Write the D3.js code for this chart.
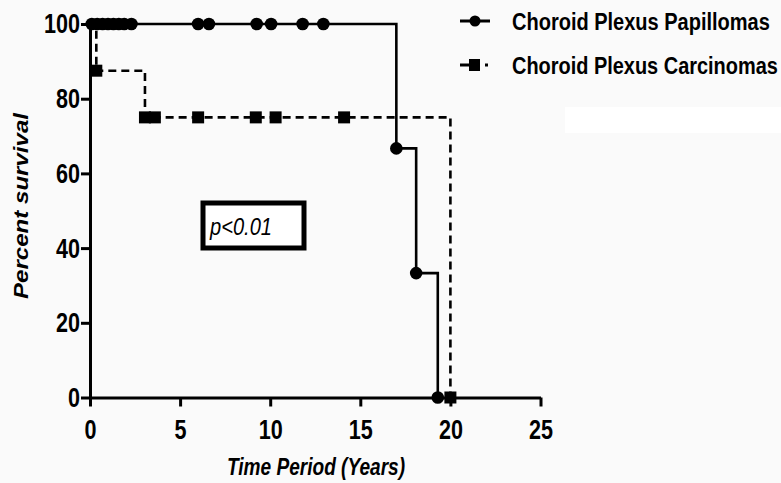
<!DOCTYPE html>
<html>
<head>
<meta charset="utf-8">
<script src="https://cdn.jsdelivr.net/npm/d3@7"></script>
<style>
  body { margin: 0; background: #fafafa; }
  svg { display: block; }
  text { font-family: "Liberation Sans", Arial, sans-serif; }
</style>
</head>
<body>
<div id="chart"></div>
<script>
// Kaplan-Meier steps (time in years, percent survival)
const papTimes = [0, 17, 18.1, 19.3];
const papSurv = [100, 66.7, 33.3, 0];
const papCensored = [0.1, 0.4, 0.7, 1.0, 1.3, 1.6, 1.9, 2.3, 6.0, 6.6, 9.25, 10.05, 11.8, 12.95];

const carTimes = [0, 0.35, 3.05, 20];
const carSurv = [100, 87.5, 75, 0];
const carCensored = [3.6, 6.0, 9.2, 10.3, 14.1];

const xTicks = [0, 5, 10, 15, 20, 25];
const yTicks = [0, 20, 40, 60, 80, 100];
const seriesNames = ["Choroid Plexus Papillomas", "Choroid Plexus Carcinomas"];

const W = 781, H = 483;
const x = d3.scaleLinear().domain([0, 25]).range([90, 540.5]);
const y = d3.scaleLinear().domain([0, 100]).range([397.5, 24]);

const svg = d3.select("#chart").append("svg").attr("width", W).attr("height", H);
svg.append("rect").attr("width", W).attr("height", H).attr("fill", "#fafafa");
svg.append("rect").attr("x", 565).attr("y", 107).attr("width", 216).attr("height", 26).attr("fill", "#ffffff");

// narrow bold look: squeeze text to the width measured in the picture
function squeeze(sel, len) {
    sel.attr("textLength", len).attr("lengthAdjust", "spacingAndGlyphs");
}

// step path builder
function stepPoints(times, surv) {
    const pts = [];
    times.forEach((t, i) => {
        if (i > 0) pts.push([t, surv[i - 1]]);
        pts.push([t, surv[i]]);
    });
    return pts;
}
const line = d3.line().x(d => x(d[0])).y(d => y(d[1]));

// axes
const xAxis = svg.append("g").attr("transform", `translate(0,${y(0)})`)
    .call(d3.axisBottom(x).tickValues(xTicks).tickSize(9).tickSizeOuter(0).tickPadding(13));
const yAxis = svg.append("g").attr("transform", `translate(${x(0)},0)`)
    .call(d3.axisLeft(y).tickValues(yTicks).tickSize(9).tickSizeOuter(0).tickPadding(1));
[xAxis, yAxis].forEach(g => {
    g.attr("font-family", null);
    g.select(".domain").attr("stroke", "#000").attr("stroke-width", 3);
    g.selectAll(".tick line").attr("stroke", "#000").attr("stroke-width", 3);
    g.selectAll(".tick text").attr("fill", "#000").attr("font-size", 28).attr("font-weight", "bold")
        .call(squeeze, d => String(d).length * 12);
});

// series lines
svg.append("path").datum(stepPoints(carTimes, carSurv)).attr("d", line)
    .attr("fill", "none").attr("stroke", "#000").attr("stroke-width", 2.6).attr("stroke-dasharray", "8,5");
svg.append("path").datum(stepPoints(papTimes, papSurv)).attr("d", line)
    .attr("fill", "none").attr("stroke", "#000").attr("stroke-width", 2.6);

// markers
const carPts = carTimes.slice(1).map((t, i) => [t, carSurv[i + 1]]).concat(carCensored.map(t => [t, 75]));
svg.append("g").selectAll("rect").data(carPts).enter().append("rect")
    .attr("x", d => x(d[0]) - 6).attr("y", d => y(d[1]) - 6)
    .attr("width", 12).attr("height", 12).attr("fill", "#000");

const papPts = papTimes.slice(1).map((t, i) => [t, papSurv[i + 1]]).concat(papCensored.map(t => [t, 100]));
svg.append("g").selectAll("circle").data(papPts).enter().append("circle")
    .attr("cx", d => x(d[0])).attr("cy", d => y(d[1])).attr("r", 6.3).attr("fill", "#000");

// p value box
svg.append("rect").attr("x", 203).attr("y", 203).attr("width", 101).attr("height", 45)
    .attr("fill", "#fff").attr("stroke", "#000").attr("stroke-width", 5);
svg.append("text").attr("x", 210).attr("y", 235)
    .attr("font-size", 24).attr("font-style", "italic").text("p<0.01").call(squeeze, 62);

// axis titles
svg.append("text").attr("x", 316).attr("y", 475).attr("text-anchor", "middle")
    .attr("font-size", 23).attr("font-weight", "bold").attr("font-style", "italic")
    .text("Time Period (Years)").call(squeeze, 178);
svg.append("text").attr("transform", "translate(28,206) rotate(-90)").attr("text-anchor", "middle")
    .attr("font-size", 21).attr("font-weight", "bold").attr("font-style", "italic")
    .text("Percent survival").call(squeeze, 186);

// legend
const legend = svg.append("g");
const legY = [21, 65];
const legW = [258, 266];
legend.append("line").attr("x1", 460).attr("x2", 490).attr("y1", legY[0]).attr("y2", legY[0])
    .attr("stroke", "#000").attr("stroke-width", 3);
legend.append("circle").attr("cx", 475).attr("cy", legY[0]).attr("r", 5.5).attr("fill", "#000");
legend.append("line").attr("x1", 460).attr("x2", 478).attr("y1", legY[1]).attr("y2", legY[1])
    .attr("stroke", "#000").attr("stroke-width", 3);
legend.append("line").attr("x1", 485).attr("x2", 488).attr("y1", legY[1]).attr("y2", legY[1])
    .attr("stroke", "#000").attr("stroke-width", 3);
legend.append("rect").attr("x", 469).attr("y", legY[1] - 6).attr("width", 11).attr("height", 12).attr("fill", "#000");
// legend labels: scale horizontally so the condensed width matches
legend.selectAll("text").data(seriesNames).enter().append("text")
    .attr("font-size", 23).attr("font-weight", "bold").text(d => d)
    .attr("transform", function(d, i) {
        const sx = legW[i] / this.getComputedTextLength();
        return `translate(512,${legY[i] + 9}) scale(${sx},1)`;
    });
</script>
</body>
</html>
